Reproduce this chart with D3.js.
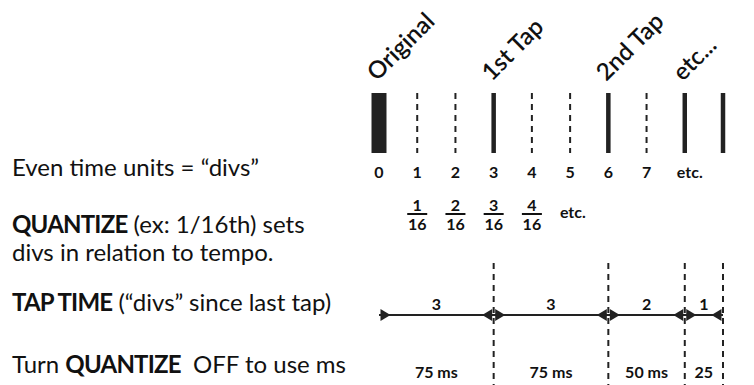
<!DOCTYPE html>
<html>
<head>
<meta charset="utf-8">
<script src="https://cdn.jsdelivr.net/npm/d3@7"></script>
<style>
  body { margin: 0; background: #fff; }
  svg text { font-family: Lato, 'Open Sans', sans-serif; fill: #111; }
</style>
</head>
<body>
<div id="chart"></div>
<script>

// divs shown on the time line
var divLabels = ['0', '1', '2', '3', '4', '5', '6', '7', 'etc.'];
var lastDiv = 9;

// which divs get a tap mark
var tapNames = ['Original', '1st Tap', '2nd Tap', 'etc...'];
var tapDivs = [0, 3, 6, 8];
var extraTapDivs = [9];

// quantize fractions
var fracNums = [1, 2, 3, 4];
var fracDen = 16;

// tap time segments
var segStarts = [0, 3, 6, 8];
var segDivs = [3, 3, 2, 1];
var segMs = ['75 ms', '75 ms', '50 ms', '25'];

// left hand notes, [bold?, text]
var notes = [
  [[false, 'Even time units = \u201cdivs\u201d']],
  [[true, 'QUANTIZE'], [false, ' (ex: 1/16th) sets']],
  [[false, 'divs in relation to tempo.']],
  [[true, 'TAP TIME'], [false, ' (\u201cdivs\u201d since last tap)']],
  [[false, 'Turn '], [true, 'QUANTIZE'], [false, '  OFF to use ms']]
];
var noteY = [176, 233, 261, 311, 373];

var width = 754, height = 385;

var svg = d3.select('#chart').append('svg')
    .attr('width', width)
    .attr('height', height);

// set the range
var x = d3.scaleLinear().domain([0, lastDiv]).range([379, 723]);

var allTaps = tapDivs.concat(extraTapDivs);

// tick marks
var ticks = d3.range(0, lastDiv + 1);
svg.selectAll('line.tick')
    .data(ticks)
  .enter().append('line')
    .attr('class', 'tick')
    .attr('x1', function(d) { return x(d); })
    .attr('x2', function(d) { return x(d); })
    .attr('y1', 93)
    .attr('y2', 153)
    .attr('stroke', '#222')
    .attr('stroke-width', function(d) {
      if (d === 0) return 15;
      return allTaps.indexOf(d) >= 0 ? 4.5 : 2;
    })
    .attr('stroke-dasharray', function(d) {
      return allTaps.indexOf(d) >= 0 ? null : '6,5';
    });

// rotated tap names
svg.selectAll('text.tap')
    .data(tapNames)
  .enter().append('text')
    .attr('class', 'tap')
    .attr('transform', function(d, i) {
      return 'translate(' + (x(tapDivs[i]) - 2) + ',82) rotate(-45)';
    })
    .attr('font-size', '24px')
    .attr('font-weight', 600)
    .text(function(d) { return d; });

// div numbers
svg.selectAll('text.div')
    .data(divLabels)
  .enter().append('text')
    .attr('class', 'div')
    .attr('x', function(d, i) { return x(i) + (i === 8 ? 5 : 0); })
    .attr('y', 178)
    .attr('text-anchor', 'middle')
    .attr('font-size', '16px')
    .attr('font-weight', 'bold')
    .text(function(d) { return d; });

// fractions
var frac = svg.selectAll('g.frac')
    .data(fracNums)
  .enter().append('g')
    .attr('class', 'frac')
    .attr('transform', function(d) { return 'translate(' + x(d) + ',0)'; });

frac.append('text')
    .attr('y', 211)
    .attr('text-anchor', 'middle')
    .attr('font-size', '16px')
    .attr('font-weight', 'bold')
    .text(function(d) { return d; });

frac.append('line')
    .attr('x1', -10).attr('x2', 10)
    .attr('y1', 214).attr('y2', 214)
    .attr('stroke', '#111')
    .attr('stroke-width', 2);

frac.append('text')
    .attr('y', 230)
    .attr('text-anchor', 'middle')
    .attr('font-size', '16px')
    .attr('font-weight', 'bold')
    .text(fracDen);

svg.append('text')
    .attr('x', x(fracNums[fracNums.length - 1]) + 28)
    .attr('y', 218)
    .attr('font-size', '16px')
    .attr('font-weight', 'bold')
    .text('etc.');

// dashed tap boundaries
var bounds = segStarts.slice(1).concat([lastDiv]);
svg.selectAll('line.bound')
    .data(bounds)
  .enter().append('line')
    .attr('class', 'bound')
    .attr('x1', function(d) { return x(d); })
    .attr('x2', function(d) { return x(d); })
    .attr('y1', 263)
    .attr('y2', height)
    .attr('stroke', '#222')
    .attr('stroke-width', 2)
    .attr('stroke-dasharray', '6,5');

// tap time line
var lineY = 315;
svg.append('line')
    .attr('x1', x(0)).attr('x2', x(lastDiv))
    .attr('y1', lineY).attr('y2', lineY)
    .attr('stroke', '#222')
    .attr('stroke-width', 2);

// arrow heads at each end of a segment
var heads = [];
segStarts.forEach(function(s, i) {
  heads.push({x: s, dir: 1});
  heads.push({x: s + segDivs[i], dir: -1});
});
svg.selectAll('path.head')
    .data(heads)
  .enter().append('path')
    .attr('class', 'head')
    .attr('d', function(d) {
      var bx = x(d.x) + d.dir * 1.5;
      return 'M' + bx + ',' + (lineY - 6) + 'L' + (bx + d.dir * 10) + ',' + lineY +
             'L' + bx + ',' + (lineY + 6) + 'Z';
    })
    .attr('fill', '#222');

// segment labels
svg.selectAll('text.seg')
    .data(segDivs)
  .enter().append('text')
    .attr('class', 'seg')
    .attr('x', function(d, i) { return x(segStarts[i] + d / 2); })
    .attr('y', 310)
    .attr('text-anchor', 'middle')
    .attr('font-size', '16px')
    .attr('font-weight', 'bold')
    .text(function(d) { return d; });

svg.selectAll('text.ms')
    .data(segMs)
  .enter().append('text')
    .attr('class', 'ms')
    .attr('x', function(d, i) { return x(segStarts[i] + segDivs[i] / 2); })
    .attr('y', 378)
    .attr('text-anchor', 'middle')
    .attr('font-size', '16px')
    .attr('font-weight', 'bold')
    .text(function(d) { return d; });

// left notes
var note = svg.selectAll('text.note')
    .data(notes)
  .enter().append('text')
    .attr('class', 'note')
    .attr('x', 12)
    .attr('y', function(d, i) { return noteY[i]; })
    .attr('font-size', '24px')
    .style('white-space', 'pre');

note.selectAll('tspan')
    .data(function(d) { return d; })
  .enter().append('tspan')
    .attr('font-weight', function(d) { return d[0] ? 'bold' : 'normal'; })
    .attr('letter-spacing', function(d) { return d[0] ? '-0.8px' : null; })
    .text(function(d) { return d[1]; });

</script>
</body>
</html>
